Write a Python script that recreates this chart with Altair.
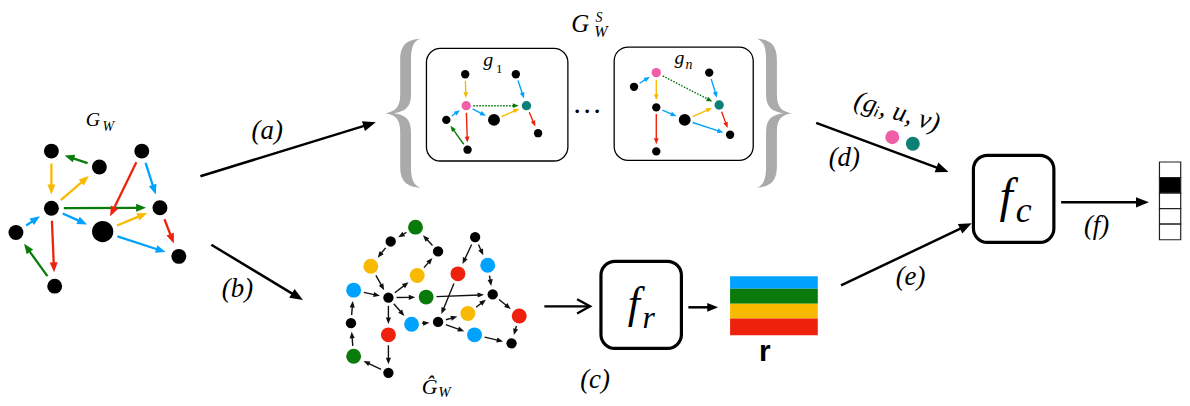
import math
import altair as alt
import pandas as pd

BLUE = "#00A2FF"; GREEN = "#0A7B0A"; ORANGE = "#F8BA00"; RED = "#EE220C"
PINK = "#EE5FA7"; TEAL = "#0C7F77"; BLACK = "#000000"; GREY = "#AAAAAA"
SERIF = "Liberation Serif"

# ---------------- G_W (left graph)
gw_x = [51.7, 100, 142.7, 51.7, 16, 103.3, 161, 180, 55]
gw_y = [150.7, 166.7, 150.7, 208.3, 232.7, 231.7, 207.7, 256.7, 286.7]
gw_r = [7.5, 7.5, 7.5, 7.5, 7.5, 10.7, 7.5, 7.5, 7.5]
gw_src = [1, 0, 3, 3, 3, 4, 8, 3, 2, 2, 5, 6, 5]
gw_dst = [0, 3, 1, 6, 5, 3, 4, 8, 5, 6, 6, 7, 7]
gw_ecol = [GREEN, ORANGE, ORANGE, GREEN, BLUE, BLUE, GREEN, RED, RED, BLUE, ORANGE, RED, BLUE]

# ---------------- G_W hat (bottom graph)
gh_x = [418.3, 393.3, 373.3, 441, 420, 356, 391, 429, 353.3, 391, 356, 391, 414.3, 441, 471, 477.7, 478.3, 461, 491, 496, 522.7, 515]
gh_y = [227.3, 241.7, 266.7, 251.7, 276, 290.7, 298.3, 297.7, 324, 335.7, 357.3, 374, 325, 322.7, 314.3, 335.7, 237.3, 274.3, 265.7, 295, 316.7, 344.3]
gh_col = [GREEN, BLACK, ORANGE, BLACK, ORANGE, BLUE, BLACK, GREEN, BLACK, RED, GREEN, BLACK,
          BLUE, BLACK, ORANGE, BLUE, BLACK, RED, BLUE, BLACK, RED, BLACK]
gh_src = [0, 1, 2, 5, 6, 4, 3, 6, 6, 6, 9, 11, 10, 8, 12, 13, 13, 14, 15, 17, 7, 16, 16, 18, 19, 20]
gh_dst = [1, 2, 6, 6, 4, 3, 0, 7, 9, 12, 11, 10, 8, 5, 13, 14, 15, 19, 21, 13, 19, 17, 18, 19, 20, 21]

# ---------------- g_1 subgraph
g1_x = [468.3, 519.3, 469.3, 530, 449.3, 497.3, 541.7, 470.7]
g1_y = [73.3, 73.3, 105, 105, 119.3, 119.3, 132.7, 149.3]
g1_r = [4.2, 4.2, 4.7, 4.7, 4.2, 6, 4.2, 4.2]
g1_col = [BLACK, BLACK, PINK, TEAL, BLACK, BLACK, BLACK, BLACK]
g1_src = [0, 2, 2, 5, 1, 3, 2, 7, 4]
g1_dst = [2, 3, 5, 3, 3, 6, 7, 4, 2]
g1_ecol = [ORANGE, GREEN, BLUE, ORANGE, BLUE, RED, RED, GREEN, BLUE]
g1_dot = [0, 1, 0, 0, 0, 0, 0, 0, 0]

# ---------------- g_n subgraph
gn_x = [660.7, 638.3, 714, 660.7, 724, 689.3, 735, 660.7]
gn_y = [71.7, 86, 71.7, 106.7, 104.3, 119.3, 134.3, 151]
gn_r = [4.7, 4.2, 4.2, 4.2, 4.7, 6, 4.2, 4.2]
gn_col = [PINK, BLACK, BLACK, BLACK, TEAL, BLACK, BLACK, BLACK]
gn_src = [1, 0, 0, 3, 3, 5, 5, 2, 4]
gn_dst = [0, 3, 4, 5, 7, 4, 6, 4, 6]
gn_ecol = [BLUE, ORANGE, GREEN, BLUE, RED, ORANGE, BLUE, BLUE, RED]
gn_dot = [0, 0, 1, 0, 0, 0, 0, 0, 0]

# ---------------- big flow arrows (start -> tip)
big_x1 = [201.7, 212.7, 821.7, 846.7, 1068.3, 693]
big_y1 = [176, 245, 122.3, 286, 202.3, 308]
big_x2 = [378.3, 305, 955, 978.3, 1156.7, 723]
big_y2 = [121.7, 300.7, 171.7, 223.3, 202.3, 308]
big_head = [13, 13, 13, 13, 13, 11]

long_x1 = [548]; long_y1 = [307]; long_x2 = [594]; long_y2 = [307]

# ---------------- boxes
tbox_x1 = [605, 980]; tbox_y1 = [261.7, 155]; tbox_x2 = [686, 1061]; tbox_y2 = [349.3, 242.7]
sbox_x1 = [429.3, 618.3]; sbox_y1 = [47.3, 46]; sbox_x2 = [571.7, 758.3]; sbox_y2 = [160.7, 160]

# r bar
rbar_y1 = [276.7, 289.3, 304.3, 319.3]
rbar_y2 = [289.3, 304.3, 319.3, 336]
rbar_col = [BLUE, GREEN, ORANGE, RED]
rbar_x = [735, 823.3]

# output vector
vec_y1 = [161.7, 177.3, 193, 208.7, 224.3]
vec_y2 = [177.3, 193, 208.7, 224.3, 240]
vec_fill = ["white", "black", "white", "white", "white"]
vec_x = [1167.3, 1188.7]

# (g_i,u,v) dots
pair_x = [898.3, 919]; pair_y = [136.7, 143.3]; pair_col = [PINK, TEAL]; pair_r = [7, 7]

# braces
brace_x = [405.5, 779.5]; brace_y = [112.5, 112.5]

# texts (italic serif)
it_t = ["G", "W", "g", "g", "n", "G", "S", "W", "Ĝ", "W",
        "(a)", "(b)", "(c)", "(d)", "(e)", "(f)", "(gᵢ, u, v)", "f", "r", "f", "c"]
it_x = [93.5, 109, 491.5, 684, 693.7, 584, 603, 605, 432.5, 447.5,
        269, 239, 599, 850, 916.7, 1104, 901, 638, 653, 1013, 1030.5]
it_y = [125, 130, 65, 63.3, 68.3, 30.5, 21, 36, 395, 398.3,
        139, 297.5, 389.5, 166, 286, 234, 119, 319, 329, 212, 222]
it_fs = [20, 14, 20, 20, 14, 25, 14, 16, 22, 15,
         27, 27, 27, 27, 27, 27, 27, 44, 32, 48, 36]
it_ang = [0]*16 + [16] + [0]*4

up_t = ["1", "…"]
up_x = [502.5, 591]
up_y = [71.7, 112.2]
up_fs = [13, 30]

bold_t = ["r"]; bold_x = [770]; bold_y = [361.7]; bold_fs = [30]

HEAD = "M0,0L-1,-0.4L-1,0.4Z"
CHEVRON = "M-1,-0.55L0,0L-1,0.55"
LBRACE = ("M0.235,-1C0.06,-0.99,-0.035,-0.92,-0.035,-0.72L-0.035,-0.25"
          "C-0.035,-0.08,-0.1,-0.02,-0.235,0C-0.1,0.02,-0.035,0.08,-0.035,0.25"
          "L-0.035,0.72C-0.035,0.92,0.06,0.99,0.235,1"
          "C0.15,0.97,0.11,0.9,0.11,0.72L0.11,0.25C0.11,0.08,0.03,0.02,-0.12,0"
          "C0.03,-0.02,0.11,-0.08,0.11,-0.25L0.11,-0.72C0.11,-0.9,0.15,-0.97,0.235,-1Z")
RBRACE = ("M-0.235,-1C-0.06,-0.99,0.035,-0.92,0.035,-0.72L0.035,-0.25"
          "C0.035,-0.08,0.1,-0.02,0.235,0C0.1,0.02,0.035,0.08,0.035,0.25"
          "L0.035,0.72C0.035,0.92,-0.06,0.99,-0.235,1"
          "C-0.15,0.97,-0.11,0.9,-0.11,0.72L-0.11,0.25C-0.11,0.08,-0.03,0.02,0.12,0"
          "C-0.03,-0.02,-0.11,-0.08,-0.11,-0.25L-0.11,-0.72C-0.11,-0.9,-0.15,-0.97,-0.235,-1Z")


def build_edges(nx, ny, nr, src, dst, cols, g0, g1, head, lw, dots=None):
    rules, heads = [], []
    for k, (s, d, c) in enumerate(zip(src, dst, cols)):
        dx, dy = nx[d] - nx[s], ny[d] - ny[s]
        L = math.hypot(dx, dy)
        ux, uy = dx / L, dy / L
        sx, sy = nx[s] + ux * (nr[s] + g0), ny[s] + uy * (nr[s] + g0)
        tx, ty = nx[d] - ux * (nr[d] + g1), ny[d] - uy * (nr[d] + g1)
        ex, ey = tx - ux * head * 0.75, ty - uy * head * 0.75
        dot = dots[k] if dots else 0
        rules.append(dict(x=sx, y=sy, x2=ex, y2=ey, c=c, w=lw, dt=dot))
        heads.append(dict(x=tx, y=ty, a=math.degrees(math.atan2(dy, dx)) % 360, s=(2 * head) ** 2, c=c))
    return rules, heads


rules, heads = [], []
gh_r = [7.5 if c != BLACK else 5.2 for c in gh_col]
for args in [
    (gw_x, gw_y, gw_r, gw_src, gw_dst, gw_ecol, 5, 6.5, 10, 2.3, None),
    (gh_x, gh_y, gh_r, gh_src, gh_dst, ["#111111"] * len(gh_src), 3, 3.5, 6.5, 1.4, None),
    (g1_x, g1_y, g1_r, g1_src, g1_dst, g1_ecol, 2.5, 3, 6, 1.4, g1_dot),
    (gn_x, gn_y, gn_r, gn_src, gn_dst, gn_ecol, 2.5, 3, 6, 1.4, gn_dot),
]:
    r_, h_ = build_edges(*args)
    rules += r_
    heads += h_

for x1, y1, x2, y2, h in zip(big_x1, big_y1, big_x2, big_y2, big_head):
    dx, dy = x2 - x1, y2 - y1
    L = math.hypot(dx, dy)
    ux, uy = dx / L, dy / L
    rules.append(dict(x=x1, y=y1, x2=x2 - ux * h * 0.75, y2=y2 - uy * h * 0.75, c=BLACK, w=2.5, dt=0))
    heads.append(dict(x=x2, y=y2, a=math.degrees(math.atan2(dy, dx)) % 360, s=(2 * h) ** 2, c=BLACK))

long_rule = [dict(x=a, y=b, x2=c - 1, y2=d, c=BLACK, w=2.4, dt=0) for a, b, c, d in zip(long_x1, long_y1, long_x2, long_y2)]
rules += long_rule
chev = pd.DataFrame([dict(x=c, y=d, a=0, s=(2 * 13) ** 2) for c, d in zip(long_x2, long_y2)])

nodes = []
for nx, ny, nr, nc in [(gw_x, gw_y, gw_r, [BLACK] * len(gw_x)), (gh_x, gh_y, gh_r, gh_col),
                       (g1_x, g1_y, g1_r, g1_col), (gn_x, gn_y, gn_r, gn_col),
                       (pair_x, pair_y, pair_r, pair_col)]:
    for x, y, r, c in zip(nx, ny, nr, nc):
        nodes.append(dict(x=x, y=y, s=(2 * r) ** 2, c=c))

df_rules = pd.DataFrame(rules)
df_heads = pd.DataFrame(heads)
df_nodes = pd.DataFrame(nodes)

xs = alt.Scale(domain=[8, 1190], nice=False, zero=False)
ys = alt.Scale(domain=[8, 406], nice=False, zero=False, reverse=True)
X = alt.X("x:Q", scale=xs, axis=None)
Y = alt.Y("y:Q", scale=ys, axis=None)
X2 = alt.X2("x2:Q")
Y2 = alt.Y2("y2:Q")
C = alt.Color("c:N", scale=None)

braces = pd.DataFrame(dict(x=brace_x, y=brace_y))
l_brace = alt.Chart(braces.iloc[[0]]).mark_point(shape=LBRACE, filled=True, opacity=1, strokeWidth=0,
                                                   color=GREY, size=22500).encode(x=X, y=Y)
r_brace = alt.Chart(braces.iloc[[1]]).mark_point(shape=RBRACE, filled=True, opacity=1, strokeWidth=0,
                                                   color=GREY, size=22500).encode(x=X, y=Y)

tbox = pd.DataFrame(dict(x=tbox_x1, y=tbox_y1, x2=tbox_x2, y2=tbox_y2))
sbox = pd.DataFrame(dict(x=sbox_x1, y=sbox_y1, x2=sbox_x2, y2=sbox_y2))
thick_boxes = alt.Chart(tbox).mark_rect(cornerRadius=14, fill="white", stroke="black", strokeWidth=3.2).encode(
    x=X, y=Y, x2=X2, y2=Y2)
thin_boxes = alt.Chart(sbox).mark_rect(cornerRadius=14, fill="white", stroke="black", strokeWidth=1.3).encode(
    x=X, y=Y, x2=X2, y2=Y2)

rbar = pd.DataFrame(dict(x=[rbar_x[0]] * 4, x2=[rbar_x[1]] * 4, y=rbar_y1, y2=rbar_y2, c=rbar_col))
rbar_l = alt.Chart(rbar).mark_rect().encode(x=X, y=Y, x2=X2, y2=Y2, color=C)

vec = pd.DataFrame(dict(x=[vec_x[0]] * 5, x2=[vec_x[1]] * 5, y=vec_y1, y2=vec_y2, c=vec_fill))
vec_l = alt.Chart(vec).mark_rect(stroke="#222222", strokeWidth=1.2).encode(x=X, y=Y, x2=X2, y2=Y2, fill=alt.Fill("c:N", scale=None))

sw = alt.StrokeWidth("w:Q", scale=None)
solid = alt.Chart(df_rules[df_rules["dt"] == 0]).mark_rule(strokeCap="butt").encode(x=X, y=Y, x2=X2, y2=Y2, color=C, strokeWidth=sw)
dotted = alt.Chart(df_rules[df_rules["dt"] == 1]).mark_rule(strokeCap="butt", strokeDash=[1.6, 1.4]).encode(
    x=X, y=Y, x2=X2, y2=Y2, color=C, strokeWidth=sw)
head_l = alt.Chart(df_heads).mark_point(shape=HEAD, filled=True, opacity=1, strokeWidth=0).encode(
    x=X, y=Y, color=C, angle=alt.Angle("a:Q", scale=None), size=alt.Size("s:Q", scale=None))
chev_l = alt.Chart(chev).mark_point(shape=CHEVRON, filled=False, opacity=1, strokeWidth=2.4, color="black",
                                    strokeCap="butt", strokeJoin="miter").encode(
    x=X, y=Y, angle=alt.Angle("a:Q", scale=None), size=alt.Size("s:Q", scale=None))
node_l = alt.Chart(df_nodes).mark_circle(opacity=1).encode(x=X, y=Y, color=C, size=alt.Size("s:Q", scale=None))

it = pd.DataFrame(dict(t=it_t, x=it_x, y=it_y, fs=it_fs, a=it_ang))
it_l = alt.Chart(it).mark_text(font=SERIF, fontStyle="italic", align="center", baseline="alphabetic",
                               color="black").encode(x=X, y=Y, text="t:N", size=alt.Size("fs:Q", scale=None),
                                                     angle=alt.Angle("a:Q", scale=None))
up = pd.DataFrame(dict(t=up_t, x=up_x, y=up_y, fs=up_fs))
up_l = alt.Chart(up).mark_text(font=SERIF, align="center", baseline="alphabetic", color="black").encode(
    x=X, y=Y, text="t:N", size=alt.Size("fs:Q", scale=None))
bd = pd.DataFrame(dict(t=bold_t, x=bold_x, y=bold_y, fs=bold_fs))
bd_l = alt.Chart(bd).mark_text(font="Liberation Sans", fontWeight="bold", align="center", baseline="alphabetic",
                               color="black").encode(x=X, y=Y, text="t:N", size=alt.Size("fs:Q", scale=None))

chart = alt.layer(l_brace, r_brace, thin_boxes, thick_boxes, rbar_l, vec_l, solid, dotted, head_l, chev_l,
                  node_l, it_l, up_l, bd_l).properties(
    width=1182, height=398, padding=0, autosize=alt.AutoSizeParams(type="none"), background="white"
).configure_view(stroke=None)

chart.save("out.html", embed_options={"renderer": "svg", "actions": False})
